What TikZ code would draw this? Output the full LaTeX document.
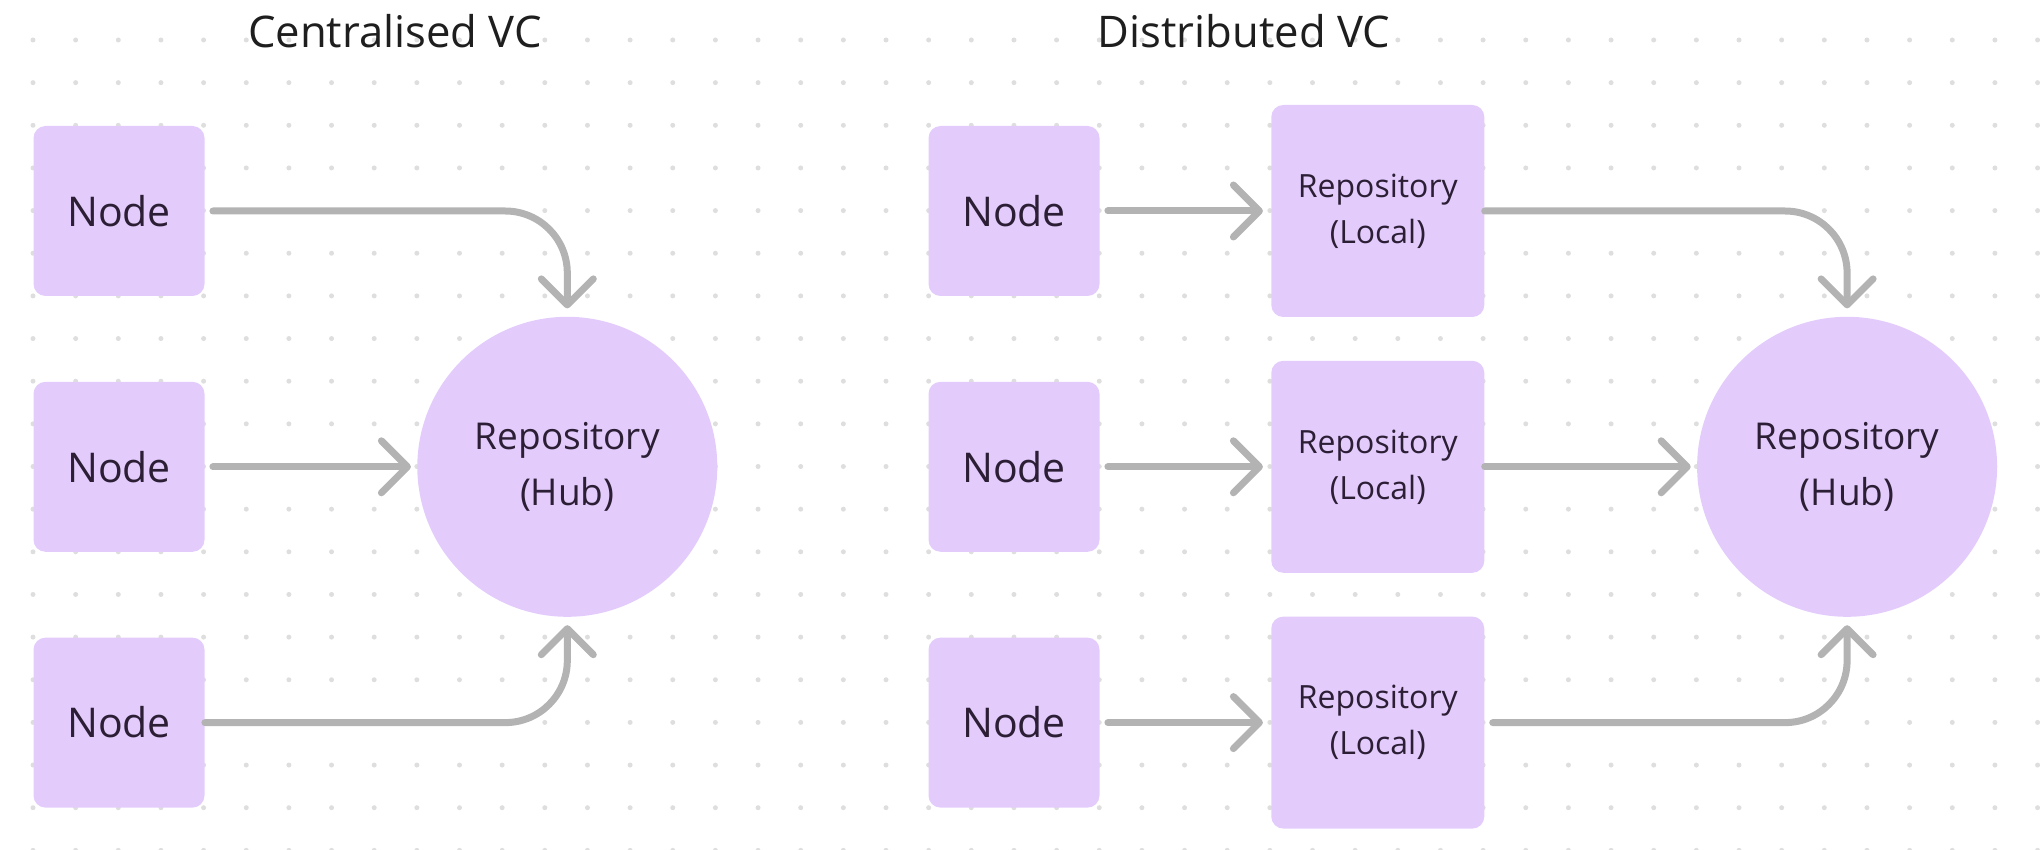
\documentclass[tikz,border=0pt]{standalone}
\usepackage{fontspec}
\setmainfont{Open Sans}
\usetikzlibrary{arrows.meta}
\usetikzlibrary{positioning}

\definecolor{boxfill}{HTML}{E3CCFC}
\definecolor{ink}{HTML}{2C1E35}
\definecolor{titleink}{HTML}{1E1E1E}
\definecolor{linkgray}{HTML}{B3B3B3}
\definecolor{dotgray}{HTML}{DEDEDE}

\begin{document}
\begin{tikzpicture}[x=0.5pt,y=-0.5pt,
		box/.style={fill=boxfill,rounded corners=6pt,minimum width=85.5pt,minimum height=85pt,inner sep=0pt,text=ink,font=\fontsize{20.5pt}{24pt}\selectfont},
		localbox/.style={box,minimum width=106.5pt,minimum height=106pt,align=center,font=\fontsize{16pt}{23pt}\selectfont},
		hub/.style={circle,fill=boxfill,minimum size=150pt,inner sep=0pt,align=center,text=ink,font=\fontsize{18.5pt}{28pt}\selectfont},
		title/.style={text=titleink,font=\fontsize{21.8pt}{26pt}\selectfont},
		link/.style={draw=linkgray,line width=3.5pt,line cap=round,rounded corners=31pt,-{Straight Barb[length=13pt,width=26pt,round]}}]
			\useasboundingbox (0,0) rectangle (2040,850);
			
			% dot grid
			\foreach \i in {0,...,47}
				\foreach \j in {-1,...,19}
					\fill[dotgray] ({33+42.65*\i},{40+42.65*\j}) circle (1.25pt);
			
			\node[title] (tc) at (395,31) {Centralised VC};
			\node[title] (td) at (1244,31) {Distributed VC};
			
			% centralised
			\node[box] (n1) at (119,211) {Node};
			\node[box,below=42.5pt of n1] (n2) {Node};
			\node[box,below=42.5pt of n2] (n3) {Node};
			\node[hub,right=106pt of n2] (hubA) {Repository\\(Hub)};
			
			\draw[link, shorten <=4pt, shorten >=4pt] (n1.east) -| (hubA.north);
			\draw[link, shorten <=4pt, shorten >=3pt] (n2) -- (hubA);
			\draw[link, shorten >=4pt] (n3.east) -| (hubA.south);
			
			% distributed
			\node[box] (m1) at (1014,211) {Node};
			\node[box,below=42.5pt of m1] (m2) {Node};
			\node[box,below=42.5pt of m2] (m3) {Node};
			\node[localbox,right=85.5pt of m1] (l1) {Repository\\(Local)};
			\node[localbox,right=85.5pt of m2] (l2) {Repository\\(Local)};
			\node[localbox,right=85.5pt of m3] (l3) {Repository\\(Local)};
			\node[hub,right=106pt of l2] (hubB) {Repository\\(Hub)};
			
			\draw[link, shorten <=4pt, shorten >=4pt] (m1) -- (l1);
			\draw[link, shorten <=4pt, shorten >=4pt] (m2) -- (l2);
			\draw[link, shorten <=4pt, shorten >=4pt] (m3) -- (l3);
			\draw[link, shorten >=4pt] (l1.east) -| (hubB.north);
			\draw[link, shorten >=3pt] (l2) -- (hubB);
			\draw[link, shorten <=4pt, shorten >=4pt] (l3.east) -| (hubB.south);
		\end{tikzpicture}
\end{document}
